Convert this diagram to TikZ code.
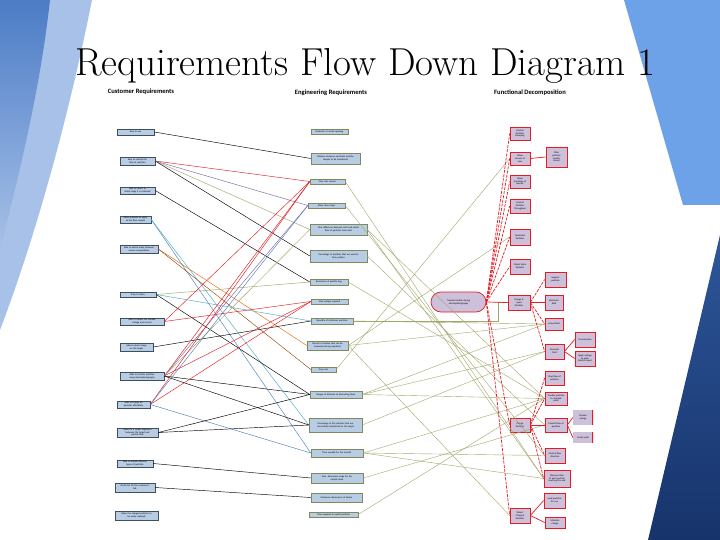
\documentclass[tikz,border=0pt]{standalone}
\usepackage{fontspec}
\usepackage{graphicx}
\newfontfamily\boxfont{Carlito}
\usetikzlibrary{positioning,shapes.misc}

\definecolor{custblue}{HTML}{B8CCE4}
\definecolor{custedge}{HTML}{3F4F5F}
\definecolor{engedge}{HTML}{7F8A5C}
\definecolor{lav}{HTML}{CCC0DA}
\definecolor{fred}{HTML}{E41B23}
\definecolor{olv}{HTML}{A3A66A}
\definecolor{lblue}{HTML}{4F81BD}
\definecolor{purp}{HTML}{8064A2}
\definecolor{teal}{HTML}{4BACC6}
\definecolor{orng}{HTML}{E46C0A}
\definecolor{brwn}{HTML}{984807}
\definecolor{lblight}{HTML}{A7C1E8}
\definecolor{lbmid}{HTML}{4C7CC6}
\definecolor{rblue}{HTML}{6DA2E8}
\definecolor{navytop}{HTML}{2D5699}
\definecolor{navybot}{HTML}{17336B}

\begin{document}
\begin{tikzpicture}[x=1pt,y=-1pt]
\tikzset{every node/.style={font=\boxfont\fontsize{2.4}{2.8}\selectfont, align=center, inner xsep=1pt, inner ysep=0.3pt},
  cust/.style={draw=custedge, fill=custblue, line width=0.5pt, text width=#1},
  eng/.style={draw=engedge, fill=custblue, line width=0.4pt, text width=#1},
  func/.style={draw=fred, fill=lav, line width=0.7pt, text width=#1},
  funcopen/.style={fill=lav, text width=#1, path picture={\draw[fred, line width=1.2pt] (path picture bounding box.north east) -- (path picture bounding box.south east);}},
  capsule/.style={rounded rectangle, draw=fred, fill=lav, line width=0.7pt, minimum width=57pt, minimum height=20pt, text width=42pt},
  head/.style={font=\boxfont\bfseries\fontsize{6.6}{7.5}\selectfont},
  tie/.style={line width=0.45pt},
  rsolid/.style={fred, line width=0.7pt},
  rdash/.style={fred, line width=0.7pt, dash pattern=on 3pt off 1.2pt},
  flow/.style={olv, line width=0.4pt}}

\fill[white] (0,0) rectangle (720,540);
\useasboundingbox (0,0) rectangle (720,540);
\fill[lblight] (0,0) -- (92,0) .. controls (70,110) and (38,230) .. (0,330) -- cycle;
\shade[top color=lbmid, bottom color=lblight] (0,0) -- (50,0) .. controls (40,90) and (20,170) .. (0,250) -- cycle;
\fill[rblue] (624,0) -- (720,0) -- (720,205) -- (683,205) -- cycle;
\shade[top color=navytop, bottom color=navybot] (720,235) -- (720,540) -- (648,540) -- cycle;

\node[font=\fontsize{39}{43}\selectfont, anchor=base] (title) at (365,76) {Requirements Flow Down Diagram 1};
\node[head] (hcust) at (141,92) {Customer Requirements};
\node[head] (heng) at (331,93) {Engineering Requirements};
\node[head] (hfunc) at (530,93) {Functional Decomposition};

\node[cust=35pt, minimum height=6] (c1) at (135.5,132) {Easy to use};
\node[cust=33pt, minimum height=8] (c2) at (137.5,161) {Easy to control the\\flow of particles};
\node[cust=33pt, minimum height=7] (c3) at (137.5,190.5) {Able to select at\\which stage it is collected};
\node[cust=29pt, minimum height=7] (c4) at (135.5,219.5) {Allow pressure to apply\\to the final sample};
\node[cust=36pt, minimum height=8] (c5) at (139,249) {Able to switch easily between\\various compositions};
\node[cust=34pt, minimum height=5] (c6) at (138,294.5) {Easy to clean};
\node[cust=42pt, minimum height=7] (c7) at (142,321.5) {Able to handle the needed\\voltage and current};
\node[cust=31pt, minimum height=8] (c8) at (136.5,347) {Able to detect stage\\on the target};
\node[cust=42pt, minimum height=8] (c9) at (142,376) {Able to transfer particles\\using electrophotography};
\node[cust=31pt, minimum height=7] (c10) at (133.5,404.5) {Able to charge all\\particles effectively};
\node[cust=39pt, minimum height=9] (c11) at (137.5,432.5) {Allow for a target alignment\\between the target and\\particle flow};
\node[cust=34pt, minimum height=7] (c12) at (135,463.5) {Able to handle different\\types of particles};
\node[cust=38pt, minimum height=9] (c13) at (135,487.5) {Small size for the customer's\\lab};
\node[cust=41pt, minimum height=9] (c14) at (136.5,515.5) {Allow the charged particles to\\be easily replaced};

\node[eng=35pt, minimum height=5] (e1) at (329.5,132) {Diameter of nozzle opening};
\node[eng=47pt, minimum height=11] (e2) at (335.5,158.5) {Distance between electrode and the\\sample to be transferred};
\node[eng=33pt, minimum height=5] (e3) at (327.5,181.5) {Flow rate sensors};
\node[eng=35pt, minimum height=5] (e4) at (326.5,205.5) {Allow time range};
\node[eng=55pt, minimum height=11] (e5) at (338.5,229.5) {Max difference between inlet and outlet\\flow of particles from inlet};
\node[eng=55pt, minimum height=12] (e6) at (338.5,256) {Percentage of particles that are used to\\form pattern};
\node[eng=36pt, minimum height=6] (e7) at (329,282) {Resistance of particle bag};
\node[eng=35pt, minimum height=5] (e8) at (329.5,301.5) {Max voltage required};
\node[eng=40pt, minimum height=6] (e9) at (332,321) {Quantity of stationary particles};
\node[eng=39pt, minimum height=9] (e10) at (327.5,345.5) {Percent of motion that can be\\measured during operation};
\node[eng=23pt, minimum height=5] (e11) at (323.5,369.5) {Drop size};
\node[eng=50pt, minimum height=7] (e12) at (336,394.5) {Ranges of distance of alternating flows};
\node[eng=51pt, minimum height=14] (e13) at (335.5,425) {Percentage of the particles that are\\successfully transferred to the target};
\node[eng=50pt, minimum height=8] (e14) at (337,453) {Time needed for the transfer};
\node[eng=50pt, minimum height=10] (e15) at (337,478) {Max. dimension range for the\\sample plate};
\node[eng=49pt, minimum height=9] (e16) at (336.5,497.5) {Maximum dimensions of device};
\node[eng=47pt, minimum height=5] (e17) at (333.5,514.5) {Time required to switch particles};

\node[func=18pt, minimum height=13] (f1) at (520,133.5) {Control\\Particles\\Clumping};
\node[func=18pt, minimum height=13] (f2) at (520,158.5) {Allow\\stream of\\Ions};
\node[func=19pt, minimum height=20] (f3) at (556.5,157) {Filter\\particles\\smaller\\(clean)};
\node[func=18pt, minimum height=13] (f4) at (520,181.5) {Allow\\transition of\\Specific};
\node[func=18pt, minimum height=14] (f5) at (520,206) {Control\\Particles\\Throughput};
\node[func=18pt, minimum height=16] (f6) at (520,237) {Neutralize\\Particles};
\node[func=18pt, minimum height=15] (f7) at (520,266.5) {Collect Extra\\Particles};
\node[func=19pt, minimum height=15] (f8) at (555.5,279.5) {Support\\particles};
\node[capsule] (cap) at (458.5,302) {Transfer Particle during\\electrophotography};
\node[func=20pt, minimum height=15] (f9) at (519,302.5) {Charge \&\\Input\\Particles};
\node[func=16pt, minimum height=15] (f10) at (554,302.5) {Electronic\\field};
\node[func=16pt, minimum height=12] (f11) at (554,324) {Actual field};
\node[func=18pt, minimum height=15] (f12) at (585,339.5) {Ground plate};
\node[func=17pt, minimum height=15] (f13) at (554.5,351.5) {Generate\\field};
\node[func=18pt, minimum height=15] (f14) at (585,358.5) {Apply voltage\\to plate\\(electric layer)};
\node[func=17pt, minimum height=14] (f15) at (554.5,378) {Stop flow of\\particles};
\node[func=20pt, minimum height=13] (f16) at (556,398.5) {Transfer particles\\to charged\\plate};
\node[funcopen=18pt, minimum height=15] (f17) at (583,417.5) {Provide\\energy};
\node[func=18pt, minimum height=14] (f18) at (520,425) {Charge\\Particles};
\node[func=20pt, minimum height=14] (f19) at (556,425) {Control flow of\\particles};
\node[funcopen=18pt, minimum height=11] (f20) at (583,437.5) {Create path};
\node[func=18pt, minimum height=15] (f21) at (555,455.5) {Control flow\\direction};
\node[func=24pt, minimum height=17] (f22) at (557,478.5) {Measure flow\\of each particle\\reaching the end};
\node[func=18pt, minimum height=15] (f23) at (520,515.5) {Detect\\Charged\\Particles};
\node[func=19pt, minimum height=15] (f24) at (554.5,500.5) {Load particles\\for use};
\node[func=18pt, minimum height=11] (f25) at (555,522.5) {Maintain\\charge};

\draw[tie]
  (c1.east) edge[black] (e2.west)
  (c2.east) edge[fred] (e3.west) edge[purp] (e4.west) edge[olv] (e5.west) edge[black] (e6.west)
  (c3.east) edge[black] (e7.west)
  (c4.east) edge[lblue] (e14.west) edge[teal] (e13.west)
  (c5.east) edge[orng] (e10.west) edge[brwn] (e11.west)
  (c6.east) edge[olv] (e7.west) edge[teal] (e9.west) edge[black] (e12.west)
  (c7.east) edge[fred] (e8.west) edge[fred] (e3.west)
  (c8.east) edge[black] (e9.west)
  (c9.east) edge[fred] (e3.west) edge[purp] (e4.west) edge[olv] (e5.west) edge[fred] (e8.west) edge[black] (e12.west) edge[black] (e13.west)
  (c10.east) edge[fred] (e3.west) edge[lblue] (e4.west) edge[fred] (e8.west) edge[lblue] (e14.west)
  (c11.east) edge[black] (e12.west) edge[black] (e13.west)
  (c12.east) edge[black] (e15.west)
  (c13.east) edge[black] (e16.west);

\draw[flow]
  (e3.east) edge (f22.west)
  (e4.east) edge (f21.west)
  (e5.east) edge (f22.west) edge (f16.west)
  (e6.east) edge (f19.west)
  (e7.east) edge (f16.west)
  (e9.east) edge (f11.west)
  (e10.east) edge (f6.west) edge (f11.west) edge (f23.west)
  (e11.east) edge (f2.west)
  (e12.east) edge (f13.west) edge (f11.west) edge (f16.west)
  (e13.east) edge (f13.west)
  (e14.east) edge (f16.west) edge (f21.west) edge (f22.west)
  (e15.east) edge (f19.west)
  (e17.east) edge (f16.west);
\coordinate (kink) at (498,321);
\draw[flow] (e9.east) -- (kink) |- (f9.west);

\draw[rdash] (cap.east) edge (f1.west) edge (f2.west) edge (f4.west) edge (f5.west) edge (f6.west) edge (f7.west) edge (f18.west) edge (f23.west);
\draw[rsolid] (cap.east) -- (f9.west);
\draw[rsolid] (f2.east) -- (f3.west);
\draw[rsolid] (f9.east) -- (f10.west);
\draw[rdash] (f9.east) edge (f8.west) edge (f11.west) edge (f13.west);
\draw[rsolid] (f13.east) edge (f12.west) edge (f14.west);
\draw[rdash] (f18.east) edge (f15.west) edge (f16.west) edge (f21.west) edge (f22.west);
\draw[rsolid] (f18.east) -- (f19.west);
\draw[rsolid] (f19.east) edge (f17.west) edge (f20.west);
\draw[rsolid] (f23.east) edge (f24.west) edge (f25.west);
\end{tikzpicture}
\end{document}
